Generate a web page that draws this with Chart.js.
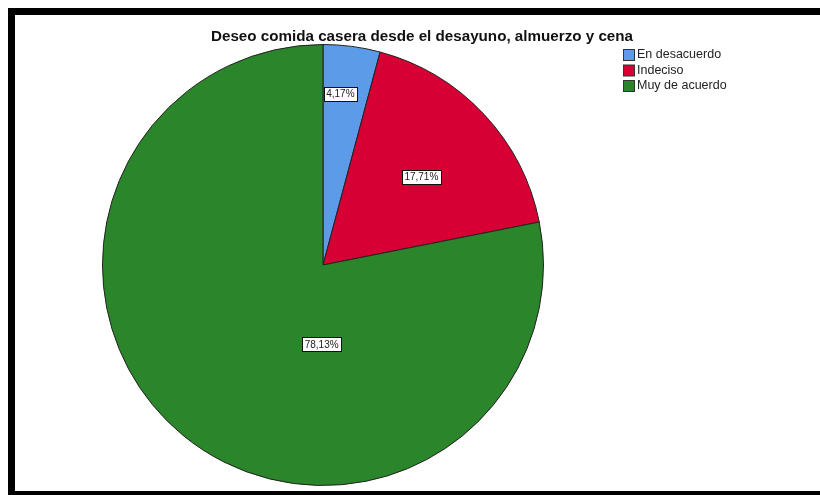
<!DOCTYPE html>
<html>
<head>
<meta charset="utf-8">
<script src="https://cdn.jsdelivr.net/npm/chart.js@4"></script>
<style>
  html, body { margin: 0; padding: 0; background: #fff; }
  #wrap { position: relative; width: 820px; height: 495px; overflow: hidden; }
  #frame { position: absolute; left: 8px; top: 8px; width: 900px; height: 476px;
           border: 7px solid #000; border-right: none; pointer-events: none; }
  canvas { position: absolute; left: 0; top: 0; }
</style>
</head>
<body>
<div id="wrap">
  <canvas id="c" width="820" height="495"></canvas>
  <div id="frame"></div>
</div>
<script>
const chartTitle = 'Deseo comida casera desde el desayuno, almuerzo y cena';
const categories = ['En desacuerdo', 'Indeciso', 'Muy de acuerdo'];
const percentages = [4.17, 17.71, 78.13];
const sliceColors = ['#5b9be8', '#d70034', '#2b852b'];

const fmt = v => v.toFixed(2).replace('.', ',') + '%';

const spssPlugin = {
  id: 'spss',
  afterDatasetsDraw(chart, args, opts) {
    const ctx = chart.ctx;
    const meta = chart.getDatasetMeta(0);
    ctx.save();
    // value labels
    ctx.font = '10px "Liberation Sans", Arial, sans-serif';
    ctx.textAlign = 'center';
    ctx.textBaseline = 'middle';
    meta.data.forEach((arc, i) => {
      const p = opts.labelPlacement[i];
      const mid = (arc.startAngle + arc.endAngle) / 2 + (p.angleShift || 0);
      const r = arc.outerRadius * p.radius;
      const x = arc.x + Math.cos(mid) * r;
      const y = arc.y + Math.sin(mid) * r;
      const txt = fmt(chart.data.datasets[0].data[i]);
      const w = ctx.measureText(txt).width + 5;
      const h = 14;
      ctx.fillStyle = '#fff';
      ctx.fillRect(Math.round(x - w / 2) + 0.5, Math.round(y - h / 2) + 0.5, Math.round(w), h);
      ctx.strokeStyle = '#111';
      ctx.lineWidth = 1;
      ctx.strokeRect(Math.round(x - w / 2) + 0.5, Math.round(y - h / 2) + 0.5, Math.round(w), h);
      ctx.fillStyle = '#222';
      ctx.fillText(txt, x, y + 0.5);
    });
    // title
    ctx.font = 'bold 15.2px "Liberation Sans", Arial, sans-serif';
    ctx.fillStyle = '#111';
    ctx.textAlign = 'center';
    ctx.fillText(chartTitle, opts.titleX, opts.titleY);
    // legend
    ctx.font = '12.5px "Liberation Sans", Arial, sans-serif';
    ctx.textAlign = 'left';
    chart.data.labels.forEach((lab, i) => {
      const y = opts.legendY + i * opts.legendStep;
      ctx.fillStyle = chart.data.datasets[0].backgroundColor[i];
      ctx.fillRect(opts.legendX + 0.5, y - 5.5, 11, 11);
      ctx.strokeStyle = '#333';
      ctx.strokeRect(opts.legendX + 0.5, y - 5.5, 11, 11);
      ctx.fillStyle = '#222';
      ctx.fillText(lab, opts.legendX + 14, y);
    });
    ctx.restore();
  }
};

new Chart(document.getElementById('c'), {
  type: 'pie',
  data: {
    labels: categories,
    datasets: [{
      data: percentages,
      backgroundColor: sliceColors,
      borderColor: '#222',
      borderWidth: 1
    }]
  },
  options: {
    responsive: false,
    animation: false,
    layout: { padding: { left: 102, right: 276, top: 44, bottom: 9 } },
    plugins: {
      legend: { display: false },
      title: { display: false },
      tooltip: { enabled: false },
      spss: {
        titleX: 422, titleY: 37,
        legendX: 623, legendY: 55, legendStep: 15.5,
        labelPlacement: [
          { radius: 0.78, angleShift: -0.03 },
          { radius: 0.6, angleShift: 0.02 },
          { radius: 0.36, angleShift: -0.67 }
        ]
      }
    }
  },
  plugins: [spssPlugin]
});
</script>
</body>
</html>
